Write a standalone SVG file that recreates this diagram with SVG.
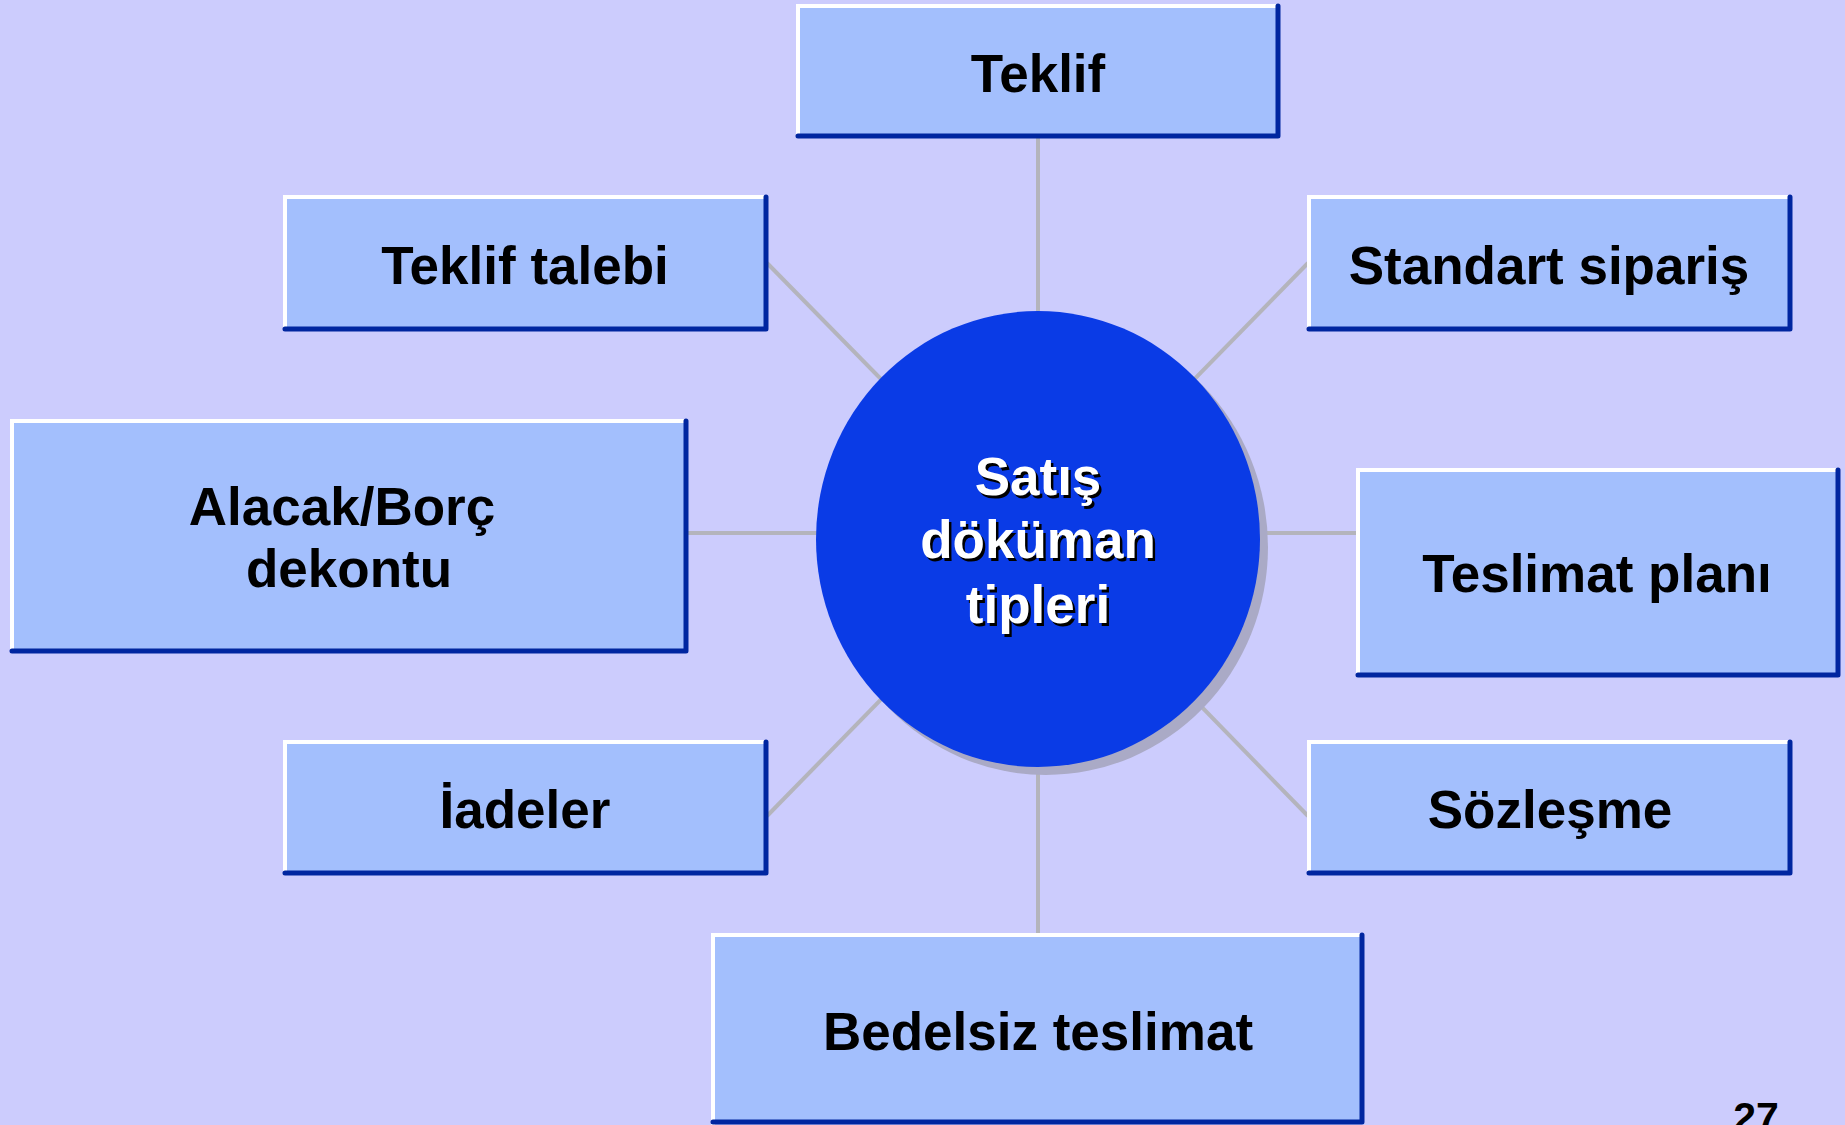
<svg xmlns="http://www.w3.org/2000/svg" width="1845" height="1125" viewBox="0 0 1845 1125">
<style>
.box{fill:#a3bffd}
.hl{fill:none;stroke:#ffffff;stroke-width:4;stroke-linecap:square}
.sh{fill:none;stroke:#0026a0;stroke-width:5;stroke-linecap:round;stroke-linejoin:round}
.lbl{font-family:"Liberation Sans",Arial,sans-serif;font-weight:bold;font-size:53px;fill:#000000;text-anchor:middle}
.ctr{font-family:"Liberation Sans",Arial,sans-serif;font-weight:bold;font-size:53px;text-anchor:middle}
.conn{stroke:#b4b4bc;stroke-width:4;fill:none}
</style>
<rect x="0" y="0" width="1845" height="1125" fill="#ccccfd"/>
<g id="connectors">
<line class="conn" x1="1038" y1="136" x2="1038" y2="539"/>
<line class="conn" x1="767" y1="263" x2="1038" y2="539"/>
<line class="conn" x1="1308" y1="263" x2="1038" y2="539"/>
<line class="conn" x1="687" y1="533" x2="1038" y2="533"/>
<line class="conn" x1="1038" y1="533" x2="1357" y2="533"/>
<line class="conn" x1="767" y1="816" x2="1038" y2="539"/>
<line class="conn" x1="1308" y1="816" x2="1038" y2="539"/>
<line class="conn" x1="1038" y1="539" x2="1038" y2="934"/>
</g>
<g id="center">
<ellipse cx="1046" cy="547" rx="222" ry="228" fill="#aaaac6"/>
<ellipse cx="1038" cy="539" rx="222" ry="228" fill="#0a3be6"/>
<g class="ctr" fill="#000000">
<text x="1040.5" y="497.5">Satış</text>
<text x="1040.5" y="560.5">döküman</text>
<text x="1040.5" y="625.5">tipleri</text>
</g>
<g class="ctr" fill="#ffffff">
<text x="1038" y="495">Satış</text>
<text x="1038" y="558">döküman</text>
<text x="1038" y="623">tipleri</text>
</g>
</g>
<g id="n-teklif">
<rect class="box" x="797" y="5" width="482" height="131"/>
<polyline class="hl" points="798,136 798,6 1277,6"/>
<polyline class="sh" points="1278,6 1278,136 798,136"/>
<text class="lbl" x="1038" y="92">Teklif</text>
</g>
<g id="n-teklif-talebi">
<rect class="box" x="284" y="196" width="483" height="133"/>
<polyline class="hl" points="285,329 285,197 765,197"/>
<polyline class="sh" points="766,197 766,329 285,329"/>
<text class="lbl" x="525" y="284">Teklif talebi</text>
</g>
<g id="n-standart">
<rect class="box" x="1308" y="196" width="483" height="133"/>
<polyline class="hl" points="1309,329 1309,197 1789,197"/>
<polyline class="sh" points="1790,197 1790,329 1309,329"/>
<text class="lbl" x="1549" y="284">Standart sipariş</text>
</g>
<g id="n-alacak">
<rect class="box" x="11" y="420" width="676" height="231"/>
<polyline class="hl" points="12,651 12,421 685,421"/>
<polyline class="sh" points="686,421 686,651 12,651"/>
<text class="lbl" x="342" y="525">Alacak/Borç</text>
<text class="lbl" x="349" y="587">dekontu</text>
</g>
<g id="n-teslimat-plani">
<rect class="box" x="1357" y="469" width="482" height="206"/>
<polyline class="hl" points="1358,675 1358,470 1837,470"/>
<polyline class="sh" points="1838,470 1838,675 1358,675"/>
<text class="lbl" x="1597" y="592">Teslimat planı</text>
</g>
<g id="n-iadeler">
<rect class="box" x="284" y="741" width="483" height="132"/>
<polyline class="hl" points="285,873 285,742 765,742"/>
<polyline class="sh" points="766,742 766,873 285,873"/>
<text class="lbl" x="525" y="828">İadeler</text>
</g>
<g id="n-sozlesme">
<rect class="box" x="1308" y="741" width="483" height="132"/>
<polyline class="hl" points="1309,873 1309,742 1789,742"/>
<polyline class="sh" points="1790,742 1790,873 1309,873"/>
<text class="lbl" x="1550" y="828">Sözleşme</text>
</g>
<g id="n-bedelsiz">
<rect class="box" x="712" y="934" width="651" height="189"/>
<polyline class="hl" points="713,1123 713,935 1361,935"/>
<polyline class="sh" points="1362,935 1362,1122 713,1122"/>
<text class="lbl" x="1038" y="1050">Bedelsiz teslimat</text>
</g>
<text x="1756" y="1131" font-family="Liberation Sans, Arial, sans-serif" font-weight="bold" font-size="41" text-anchor="middle" fill="#000000">27</text>
</svg>
